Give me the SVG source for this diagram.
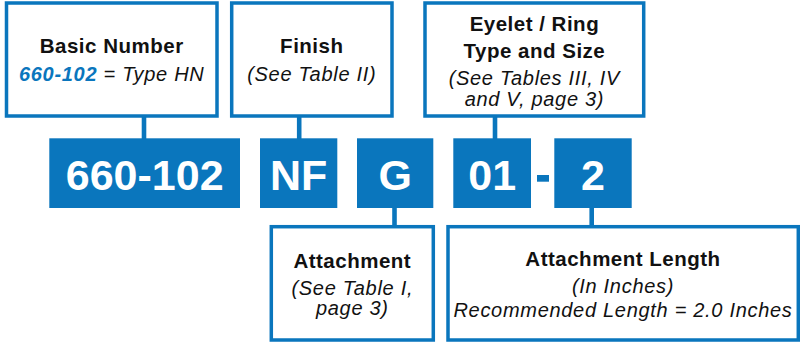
<svg xmlns="http://www.w3.org/2000/svg" width="800" height="345" viewBox="0 0 800 345">
<style>
.box{fill:#fff;stroke:#0a76bd;stroke-width:3.5}
.blk{fill:#0a76bd}
.big{font-family:"Liberation Sans",Arial,sans-serif;font-weight:bold;font-size:43px;fill:#fff;text-anchor:middle}
.t{font-family:"Liberation Sans",Arial,sans-serif;fill:#111;text-anchor:middle}
.b{font-weight:bold;font-size:20.5px;letter-spacing:0.5px}
.i{font-style:italic;font-size:20px;letter-spacing:0.7px}
.conn{stroke:#0a76bd;stroke-width:4.6;fill:none}
</style>
<g id="connectors">
<line class="conn" x1="144" y1="116" x2="144" y2="139"/>
<line class="conn" x1="299.2" y1="116" x2="299.2" y2="139"/>
<line class="conn" x1="495" y1="116" x2="495" y2="139"/>
<line class="conn" x1="394.5" y1="207" x2="394.5" y2="225"/>
<line class="conn" x1="591.7" y1="207" x2="591.7" y2="225"/>
</g>
<g id="basic-number">
<rect class="box" x="6.5" y="3" width="210.5" height="113"/>
<text class="t b" x="111.7" y="53">Basic Number</text>
<text class="t i" x="111.7" y="81"><tspan font-weight="bold" fill="#0a76bd">660-102</tspan> = Type HN</text>
</g>
<g id="finish">
<rect class="box" x="231.7" y="3" width="160.3" height="113"/>
<text class="t b" x="311.8" y="53">Finish</text>
<text class="t i" x="311.8" y="81">(See Table II)</text>
</g>
<g id="eyelet">
<rect class="box" x="425" y="3" width="218.7" height="113"/>
<text class="t b" x="534.4" y="31">Eyelet / Ring</text>
<text class="t b" x="534.4" y="58">Type and Size</text>
<text class="t i" x="534.4" y="85">(See Tables III, IV</text>
<text class="t i" x="534.4" y="106">and V, page 3)</text>
</g>
<g id="code-660-102">
<rect class="blk" x="49.3" y="138.3" width="190.7" height="69.7"/>
<text class="big" x="144.7" y="190">660-102</text>
</g>
<g id="code-NF">
<rect class="blk" x="260" y="138.3" width="77.3" height="69.7"/>
<text class="big" x="298.7" y="190">NF</text>
</g>
<g id="code-G">
<rect class="blk" x="357" y="138.3" width="76.3" height="69.7"/>
<text class="big" x="395.2" y="190">G</text>
</g>
<g id="code-01">
<rect class="blk" x="453.3" y="138.3" width="77.7" height="69.7"/>
<text class="big" x="492.2" y="190">01</text>
</g>
<g id="dash">
<rect class="blk" x="537" y="175" width="12" height="6.7"/>
</g>
<g id="code-2">
<rect class="blk" x="554.3" y="138.3" width="77.4" height="69.7"/>
<text class="big" x="593" y="190">2</text>
</g>
<g id="attachment">
<rect class="box" x="271.3" y="226.7" width="162" height="113.3"/>
<text class="t b" x="352.3" y="268">Attachment</text>
<text class="t i" x="352.3" y="295">(See Table I,</text>
<text class="t i" x="352.3" y="315">page 3)</text>
</g>
<g id="attachment-length">
<rect class="box" x="448" y="226.7" width="350.3" height="113.3"/>
<text class="t b" x="623" y="266">Attachment Length</text>
<text class="t i" x="623" y="293">(In Inches)</text>
<text class="t i" x="623" y="317">Recommended Length = 2.0 Inches</text>
</g>
</svg>
